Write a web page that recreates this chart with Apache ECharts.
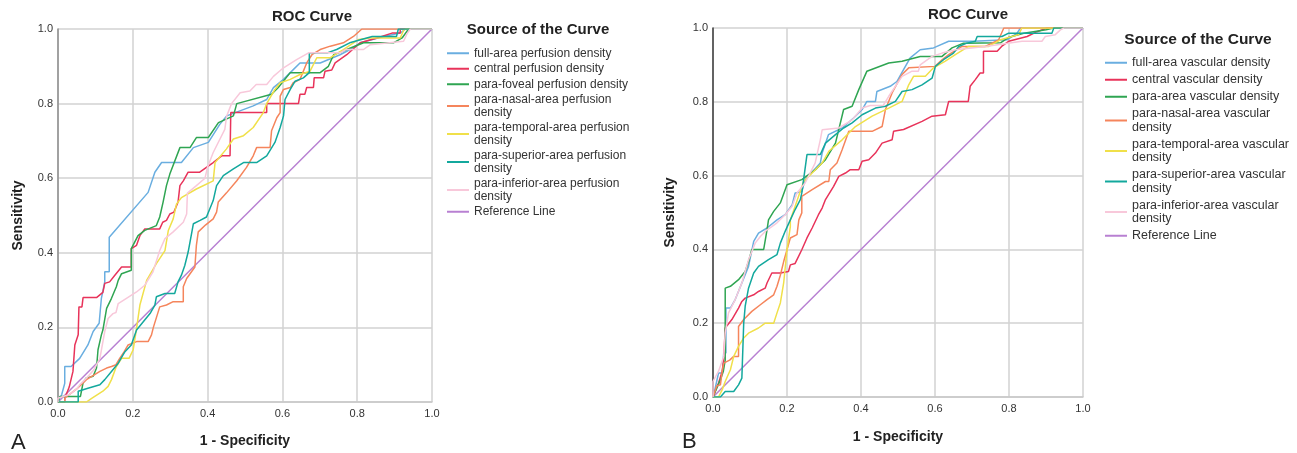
<!DOCTYPE html>
<html><head><meta charset="utf-8">
<script src="https://cdn.jsdelivr.net/npm/echarts@6/dist/echarts.min.js"></script>
<style>html,body{margin:0;padding:0;background:#fff}#c{width:1297px;height:453px}</style>
</head><body><div id="c"></div>
<script>
// ---------- data ----------
const ticks = [0, 0.2, 0.4, 0.6, 0.8, 1.0];
const namesA = ['full-area perfusion density','central perfusion density','para-foveal perfusion density','para-nasal-area perfusion\ndensity','para-temporal-area perfusion\ndensity','para-superior-area perfusion\ndensity','para-inferior-area perfusion\ndensity','Reference Line'];
const namesB = ['full-area vascular density','central vascular density','para-area vascular density','para-nasal-area vascular\ndensity','para-temporal-area vascular\ndensity','para-superior-area vascular\ndensity','para-inferior-area vascular\ndensity','Reference Line'];
const colors = ['#6aaee0','#e8335a','#2fa552','#f5855c','#f0e04a','#13a89d','#f8c8da','#b880d2'];
const refLine = [[0,0],[1,1]];

const A_full = [[0,0],[0.01,0.02],[0.018,0.05],[0.018,0.095],[0.035,0.095],[0.058,0.117],[0.08,0.153],[0.094,0.189],[0.11,0.211],[0.116,0.278],[0.125,0.322],[0.125,0.349],[0.137,0.349],[0.137,0.442],[0.241,0.562],[0.259,0.616],[0.277,0.642],[0.33,0.642],[0.362,0.682],[0.402,0.696],[0.433,0.745],[0.451,0.767],[0.522,0.794],[0.558,0.811],[0.576,0.843],[0.603,0.865],[0.621,0.883],[0.647,0.909],[0.701,0.909],[0.754,0.931],[0.781,0.945],[0.808,0.963],[0.871,0.98],[0.915,0.989],[0.929,1],[1,1]];
const A_central = [[0,0],[0.018,0],[0.018,0.01],[0.03,0.04],[0.04,0.082],[0.045,0.153],[0.054,0.18],[0.056,0.255],[0.064,0.255],[0.067,0.28],[0.103,0.28],[0.12,0.294],[0.125,0.318],[0.138,0.322],[0.152,0.34],[0.17,0.362],[0.196,0.362],[0.196,0.411],[0.21,0.42],[0.219,0.446],[0.232,0.464],[0.272,0.464],[0.28,0.482],[0.29,0.487],[0.299,0.504],[0.31,0.509],[0.321,0.536],[0.326,0.58],[0.335,0.593],[0.348,0.616],[0.379,0.616],[0.415,0.642],[0.4375,0.66],[0.46,0.66],[0.462,0.776],[0.558,0.776],[0.558,0.8],[0.643,0.8],[0.647,0.825],[0.66,0.825],[0.665,0.843],[0.683,0.843],[0.685,0.869],[0.71,0.869],[0.714,0.887],[0.732,0.89],[0.741,0.909],[0.772,0.931],[0.808,0.963],[0.853,0.976],[0.893,0.989],[0.915,0.989],[0.915,1],[1,1]];
const A_foveal = [[0,0],[0.005,0.015],[0.06,0.015],[0.0627,0.029],[0.067,0.051],[0.075,0.064],[0.094,0.069],[0.103,0.091],[0.107,0.14],[0.116,0.18],[0.12,0.193],[0.13,0.251],[0.143,0.278],[0.156,0.309],[0.161,0.326],[0.17,0.344],[0.196,0.353],[0.196,0.411],[0.214,0.446],[0.232,0.46],[0.263,0.473],[0.272,0.496],[0.281,0.536],[0.29,0.58],[0.299,0.611],[0.326,0.682],[0.353,0.682],[0.37,0.709],[0.402,0.709],[0.429,0.749],[0.469,0.767],[0.478,0.8],[0.571,0.825],[0.589,0.843],[0.621,0.883],[0.701,0.883],[0.723,0.9],[0.737,0.931],[0.772,0.945],[0.817,0.963],[0.897,0.963],[0.92,0.976],[0.9375,1],[1,1]];
const A_nasal = [[0,0],[0.018,0],[0.018,0.01],[0.03,0.02],[0.05,0.035],[0.076,0.06],[0.112,0.082],[0.13,0.091],[0.143,0.095],[0.155,0.1],[0.165,0.117],[0.177,0.135],[0.1875,0.153],[0.21,0.162],[0.241,0.162],[0.25,0.18],[0.255,0.2],[0.272,0.255],[0.29,0.26],[0.308,0.269],[0.335,0.269],[0.335,0.309],[0.344,0.331],[0.366,0.362],[0.37,0.42],[0.375,0.456],[0.395,0.475],[0.415,0.491],[0.424,0.509],[0.4285,0.536],[0.45,0.56],[0.478,0.593],[0.504,0.629],[0.522,0.66],[0.531,0.682],[0.567,0.682],[0.571,0.727],[0.585,0.762],[0.594,0.776],[0.594,0.82],[0.603,0.838],[0.621,0.843],[0.629,0.856],[0.647,0.865],[0.665,0.909],[0.679,0.931],[0.701,0.945],[0.728,0.954],[0.763,0.963],[0.79,0.98],[0.8125,1],[1,1]];
const A_temporal = [[0,0],[0.076,0],[0.09,0.01],[0.12,0.029],[0.134,0.042],[0.143,0.06],[0.156,0.095],[0.17,0.117],[0.19,0.117],[0.201,0.14],[0.21,0.197],[0.219,0.26],[0.237,0.326],[0.263,0.371],[0.286,0.406],[0.295,0.46],[0.308,0.491],[0.317,0.531],[0.33,0.548],[0.37,0.571],[0.415,0.593],[0.42,0.642],[0.45,0.678],[0.469,0.705],[0.496,0.714],[0.522,0.736],[0.549,0.776],[0.558,0.8],[0.58,0.838],[0.594,0.856],[0.621,0.865],[0.647,0.878],[0.674,0.887],[0.692,0.923],[0.728,0.923],[0.763,0.945],[0.804,0.972],[0.835,0.976],[0.915,0.976],[0.924,0.996],[0.93,1],[1,1]];
const A_superior = [[0,0],[0.054,0],[0.054,0.029],[0.08,0.037],[0.112,0.046],[0.125,0.06],[0.143,0.082],[0.161,0.104],[0.179,0.135],[0.196,0.153],[0.21,0.193],[0.228,0.215],[0.246,0.237],[0.259,0.26],[0.263,0.282],[0.286,0.291],[0.312,0.291],[0.321,0.322],[0.33,0.34],[0.339,0.366],[0.348,0.402],[0.357,0.451],[0.362,0.478],[0.38,0.487],[0.397,0.496],[0.406,0.518],[0.415,0.54],[0.424,0.58],[0.442,0.607],[0.469,0.625],[0.496,0.642],[0.531,0.642],[0.558,0.66],[0.58,0.696],[0.594,0.736],[0.603,0.767],[0.607,0.811],[0.621,0.838],[0.634,0.86],[0.656,0.869],[0.672,0.883],[0.672,0.936],[0.72,0.936],[0.745,0.945],[0.78,0.963],[0.84,0.98],[0.905,0.98],[0.91,1],[1,1]];
const A_inferior = [[0,0],[0,0.01],[0.03,0.02],[0.05,0.035],[0.058,0.046],[0.076,0.064],[0.095,0.085],[0.112,0.117],[0.125,0.189],[0.134,0.224],[0.147,0.237],[0.155,0.24],[0.161,0.264],[0.183,0.278],[0.21,0.295],[0.232,0.313],[0.254,0.349],[0.272,0.406],[0.286,0.438],[0.308,0.456],[0.335,0.482],[0.344,0.504],[0.346,0.56],[0.37,0.58],[0.393,0.6],[0.4,0.63],[0.415,0.669],[0.446,0.731],[0.451,0.767],[0.464,0.8],[0.487,0.829],[0.513,0.834],[0.53,0.851],[0.558,0.851],[0.576,0.873],[0.603,0.896],[0.638,0.918],[0.67,0.936],[0.754,0.936],[0.77,0.945],[0.817,0.945],[0.835,0.958],[0.924,0.967],[0.933,0.987],[0.942,1],[1,1]];

const B_full = [[0,0],[0.005,0.02],[0.015,0.065],[0.025,0.065],[0.029,0.119],[0.035,0.119],[0.035,0.241],[0.047,0.241],[0.06,0.264],[0.078,0.309],[0.096,0.354],[0.11,0.422],[0.123,0.444],[0.146,0.458],[0.173,0.48],[0.195,0.494],[0.214,0.521],[0.222,0.553],[0.24,0.556],[0.249,0.589],[0.29,0.634],[0.295,0.661],[0.312,0.711],[0.349,0.729],[0.38,0.756],[0.403,0.779],[0.416,0.801],[0.439,0.801],[0.443,0.828],[0.479,0.842],[0.497,0.855],[0.515,0.887],[0.533,0.919],[0.56,0.941],[0.596,0.946],[0.637,0.964],[0.704,0.964],[0.795,0.968],[0.822,0.986],[0.831,1],[1,1]];
const B_central = [[0,0],[0.015,0.038],[0.025,0.07],[0.029,0.101],[0.033,0.187],[0.051,0.21],[0.069,0.241],[0.078,0.259],[0.087,0.268],[0.11,0.277],[0.123,0.286],[0.141,0.295],[0.146,0.309],[0.159,0.336],[0.182,0.336],[0.204,0.34],[0.209,0.358],[0.222,0.362],[0.24,0.399],[0.254,0.431],[0.268,0.458],[0.285,0.494],[0.295,0.512],[0.304,0.535],[0.326,0.571],[0.34,0.598],[0.358,0.607],[0.371,0.616],[0.394,0.616],[0.403,0.639],[0.421,0.643],[0.439,0.661],[0.457,0.688],[0.484,0.697],[0.488,0.72],[0.515,0.725],[0.565,0.747],[0.592,0.761],[0.628,0.765],[0.637,0.801],[0.69,0.801],[0.695,0.842],[0.709,0.86],[0.722,0.878],[0.731,0.878],[0.731,0.937],[0.768,0.937],[0.78,0.95],[0.799,0.964],[0.849,0.977],[0.876,0.99],[0.903,1],[1,1]];
const B_para = [[0,0],[0.02,0.047],[0.028,0.07],[0.033,0.1],[0.033,0.295],[0.047,0.3],[0.069,0.318],[0.087,0.34],[0.096,0.367],[0.105,0.4],[0.137,0.4],[0.146,0.453],[0.15,0.48],[0.164,0.503],[0.182,0.526],[0.2,0.575],[0.24,0.589],[0.277,0.616],[0.304,0.643],[0.331,0.688],[0.353,0.779],[0.376,0.788],[0.394,0.833],[0.416,0.883],[0.475,0.905],[0.511,0.91],[0.56,0.923],[0.619,0.923],[0.646,0.946],[0.677,0.959],[0.777,0.96],[0.8,0.975],[0.84,0.986],[0.9,0.995],[0.92,1],[1,1]];
const B_nasal = [[0,0],[0.01,0.03],[0.02,0.033],[0.025,0.07],[0.029,0.092],[0.045,0.1],[0.056,0.11],[0.069,0.11],[0.069,0.191],[0.083,0.21],[0.105,0.232],[0.128,0.25],[0.146,0.264],[0.164,0.277],[0.173,0.3],[0.182,0.33],[0.191,0.367],[0.2,0.399],[0.209,0.431],[0.227,0.44],[0.232,0.48],[0.24,0.499],[0.24,0.544],[0.268,0.562],[0.304,0.584],[0.313,0.584],[0.317,0.616],[0.335,0.634],[0.349,0.67],[0.367,0.72],[0.43,0.72],[0.457,0.733],[0.466,0.779],[0.484,0.824],[0.511,0.874],[0.529,0.892],[0.6,0.896],[0.619,0.914],[0.637,0.928],[0.673,0.95],[0.736,0.95],[0.772,0.968],[0.786,1],[1,1]];
const B_temporal = [[0,0],[0.015,0],[0.025,0.02],[0.033,0.042],[0.047,0.074],[0.056,0.11],[0.069,0.137],[0.083,0.16],[0.096,0.173],[0.123,0.187],[0.141,0.2],[0.164,0.2],[0.173,0.228],[0.182,0.255],[0.191,0.309],[0.2,0.399],[0.209,0.462],[0.209,0.48],[0.222,0.517],[0.245,0.584],[0.268,0.607],[0.295,0.634],[0.313,0.666],[0.349,0.697],[0.385,0.733],[0.43,0.761],[0.475,0.783],[0.511,0.801],[0.529,0.846],[0.542,0.869],[0.574,0.869],[0.596,0.892],[0.628,0.91],[0.655,0.928],[0.691,0.95],[0.745,0.95],[0.777,0.968],[0.826,0.982],[0.835,1],[1,1]];
const B_superior = [[0,0],[0.02,0],[0.033,0.015],[0.056,0.015],[0.069,0.033],[0.078,0.051],[0.083,0.2],[0.087,0.246],[0.096,0.295],[0.11,0.336],[0.123,0.354],[0.15,0.372],[0.173,0.386],[0.182,0.417],[0.195,0.449],[0.209,0.48],[0.222,0.508],[0.236,0.535],[0.24,0.553],[0.254,0.657],[0.29,0.657],[0.304,0.688],[0.331,0.711],[0.353,0.729],[0.376,0.743],[0.403,0.765],[0.439,0.783],[0.466,0.788],[0.493,0.801],[0.511,0.828],[0.538,0.833],[0.565,0.846],[0.592,0.864],[0.601,0.896],[0.623,0.914],[0.65,0.932],[0.664,0.95],[0.686,0.959],[0.709,0.964],[0.714,0.977],[0.781,0.977],[0.799,0.986],[0.916,0.986],[0.921,1],[1,1]];
const B_inferior = [[0,0],[0,0.042],[0.015,0.07],[0.029,0.11],[0.033,0.173],[0.042,0.228],[0.06,0.264],[0.078,0.309],[0.096,0.372],[0.114,0.417],[0.128,0.435],[0.146,0.453],[0.159,0.462],[0.173,0.472],[0.195,0.494],[0.214,0.517],[0.227,0.553],[0.249,0.58],[0.276,0.634],[0.29,0.697],[0.295,0.724],[0.34,0.729],[0.376,0.751],[0.403,0.783],[0.425,0.79],[0.46,0.79],[0.475,0.815],[0.511,0.869],[0.538,0.883],[0.555,0.883],[0.56,0.9],[0.592,0.923],[0.619,0.932],[0.655,0.941],[0.736,0.95],[0.835,0.964],[0.889,0.964],[0.898,0.977],[0.925,0.982],[0.939,0.995],[0.948,1],[1,1]];

const seriesA = [A_full, A_central, A_foveal, A_nasal, A_temporal, A_superior, A_inferior, refLine];
const seriesB = [B_full, B_central, B_para, B_nasal, B_temporal, B_superior, B_inferior, refLine];

// ---------- chart ----------
const FF = 'Liberation Sans, Arial, sans-serif';
const chart = echarts.init(document.getElementById('c'), null, {renderer:'canvas'});

function mkX(gi){
  return {type:'value', gridIndex:gi, min:0, max:1, interval:0.2,
    name:'1 - Specificity', nameLocation:'middle', nameGap: gi===0?32:33,
    nameTextStyle:{fontFamily:FF, fontSize:14, fontWeight:'bold', color:'#222'},
    axisLine:{show:true, lineStyle:{color:'#c8c8c8', width:1.5}},
    axisTick:{show:false},
    axisLabel:{margin:6, fontFamily:FF, fontSize:11, color:'#333', formatter:v=>v.toFixed(1)},
    splitLine:{show:true, lineStyle:{color:'#d2d2d2', width:1.5}}};
}
function mkY(gi){
  return {type:'value', gridIndex:gi, min:0, max:1, interval:0.2,
    name:'Sensitivity', nameLocation:'middle', nameGap: gi===0?33:36,
    nameTextStyle:{fontFamily:FF, fontSize:14, fontWeight:'bold', color:'#222'},
    axisLine:{show:true, lineStyle:{color: gi===0?'#8c8c8c':'#3a3a3a', width:1.5}},
    axisTick:{show:false},
    axisLabel:{margin:5, fontFamily:FF, fontSize:11, color:'#333', formatter:v=>v.toFixed(1)},
    splitLine:{show:true, lineStyle:{color:'#d2d2d2', width:1.5}}};
}

const series = [];
seriesA.forEach((d,i)=>series.push({type:'line', name:namesA[i], xAxisIndex:0, yAxisIndex:0, data:d,
  symbol:'none', showSymbol:false, lineStyle:{color:colors[i], width:1.5}, itemStyle:{color:colors[i]}, z: i===7?1:2}));
seriesB.forEach((d,i)=>series.push({type:'line', name:namesB[i], xAxisIndex:1, yAxisIndex:1, data:d,
  symbol:'none', showSymbol:false, lineStyle:{color:colors[i], width:1.5}, itemStyle:{color:colors[i]}, z: i===7?1:2}));

const tStyle = (fs)=>({fontFamily:FF, fontSize:fs, fontWeight:'bold', color:'#222'});
chart.setOption({
  animation:false,
  backgroundColor:'#ffffff',
  title:[
    {text:'ROC Curve', left:312, top:9, textAlign:'center', padding:0, textStyle:tStyle(15)},
    {text:'ROC Curve', left:968, top:7, textAlign:'center', padding:0, textStyle:tStyle(15)},
    {text:'Source of the Curve', left:538, top:22, textAlign:'center', padding:0, textStyle:tStyle(15)},
    {text:'Source of the Curve', left:1198, top:32, textAlign:'center', padding:0, textStyle:tStyle(15.5)}
  ],
  grid:[{left:58, top:29, width:374, height:375}, {left:713, top:28, width:370, height:369}],
  xAxis:[mkX(0), mkX(1)],
  yAxis:[mkY(0), mkY(1)],
  legend:[
    {data:namesA, orient:'vertical', left:447, top:47, padding:0, icon:'rect', itemWidth:22, itemHeight:2, itemGap:3,
     selectedMode:false, textStyle:{fontFamily:FF, fontSize:12, lineHeight:12.5, color:'#333'}},
    {data:namesB, orient:'vertical', left:1105, top:56, padding:0, icon:'rect', itemWidth:22, itemHeight:2, itemGap:3.5,
     selectedMode:false, textStyle:{fontFamily:FF, fontSize:12.5, lineHeight:13.5, color:'#333'}}
  ],
  graphic:[
    {type:'text', left:11, top:432, style:{text:'A', font:'22px '+FF, fill:'#222'}},
    {type:'text', left:682, top:431, style:{text:'B', font:'22px '+FF, fill:'#222'}}
  ],
  series: series
});
</script></body></html>
